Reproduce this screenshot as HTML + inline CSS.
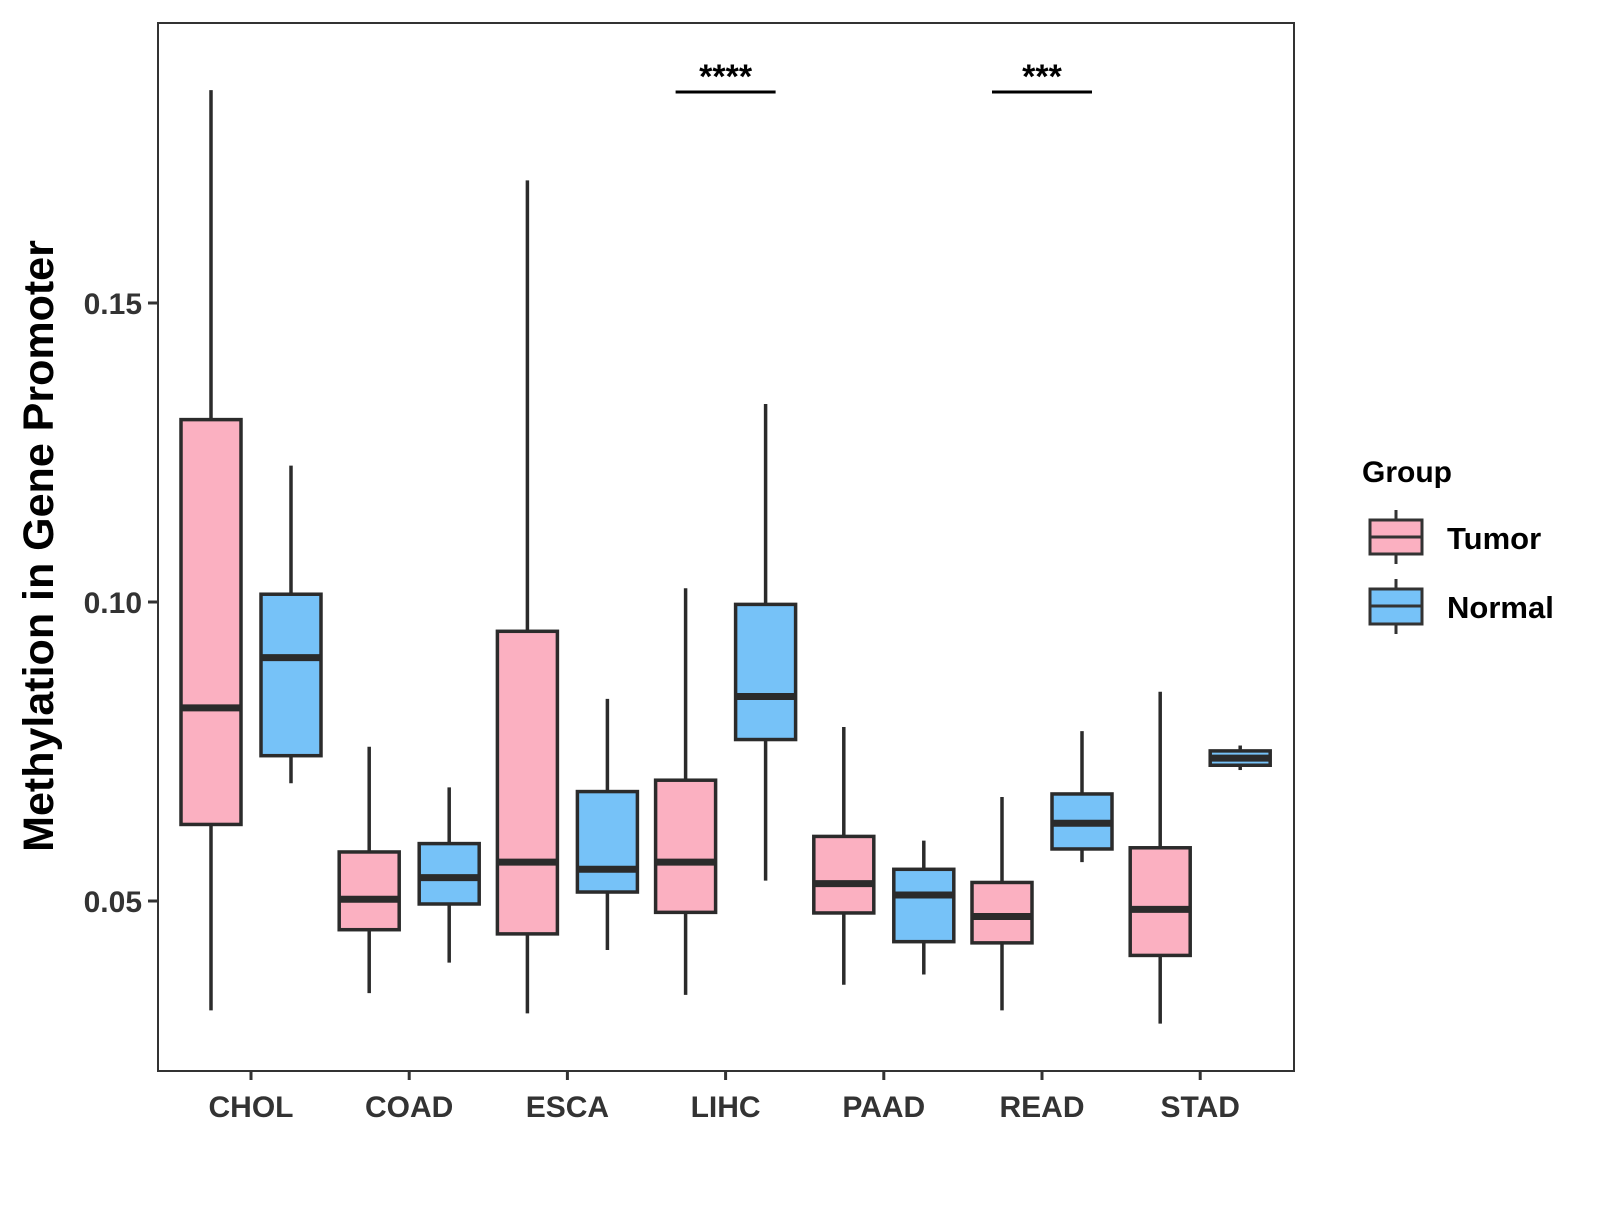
<!DOCTYPE html>
<html><head><meta charset="utf-8"><style>
html,body{margin:0;padding:0;background:#fff;}
svg text{font-family:"Liberation Sans",Arial,sans-serif;font-weight:bold;}
</style></head><body>
<svg id="chart" width="1600" height="1200" viewBox="0 0 1600 1200" xmlns="http://www.w3.org/2000/svg">
<rect x="0" y="0" width="1600" height="1200" fill="#fff"/>
<g id="marks"></g>
<rect x="158" y="23" width="1136" height="1048" fill="none" stroke="#333" stroke-width="2"/>
<g id="axes"></g>
<text x="39" y="546" font-size="43" fill="#000" text-anchor="middle" dominant-baseline="central" transform="rotate(-90 39 546)">Methylation in Gene Promoter</text>
<g>
<text x="1362" y="482" font-size="30" fill="#000">Group</text>
<g>
<line x1="1396" y1="510" x2="1396" y2="564" stroke="#333" stroke-width="3"/>
<rect x="1370" y="520" width="52" height="34" fill="#FBB0C1" stroke="#333" stroke-width="3"/>
<line x1="1370" y1="537" x2="1422" y2="537" stroke="#333" stroke-width="3"/>
<text x="1447" y="549" font-size="31" fill="#000">Tumor</text>
</g>
<g>
<line x1="1396" y1="579" x2="1396" y2="634" stroke="#333" stroke-width="3"/>
<rect x="1370" y="589" width="52" height="35" fill="#76C2F8" stroke="#333" stroke-width="3"/>
<line x1="1370" y1="606" x2="1422" y2="606" stroke="#333" stroke-width="3"/>
<text x="1447" y="618" font-size="31" fill="#000">Normal</text>
</g>
</g>
</svg>
<script>
const categories = ["CHOL","COAD","ESCA","LIHC","PAAD","READ","STAD"];
const tumorMin = [0.0317,0.0346,0.0312,0.0343,0.0360,0.0317,0.0295];
const tumorQ1 = [0.0628,0.0452,0.0445,0.0481,0.0480,0.0430,0.0409];
const tumorMed = [0.0823,0.0503,0.0565,0.0565,0.0529,0.0474,0.0486];
const tumorQ3 = [0.1305,0.0582,0.0951,0.0702,0.0608,0.0531,0.0589];
const tumorMax = [0.1856,0.0758,0.1705,0.1023,0.0791,0.0674,0.0850];
const normalMin = [0.0697,0.0397,0.0418,0.0534,0.0377,0.0565,0.0719];
const normalQ1 = [0.0743,0.0495,0.0515,0.0770,0.0432,0.0587,0.0727];
const normalMed = [0.0907,0.0539,0.0553,0.0842,0.0510,0.0630,0.0739];
const normalQ3 = [0.1013,0.0596,0.0683,0.0996,0.0553,0.0679,0.0751];
const normalMax = [0.1228,0.0690,0.0838,0.1331,0.0601,0.0784,0.0760];
const yTicks = [0.05,0.10,0.15];
const yTickLabels = ["0.05","0.10","0.15"];
const sigCategories = ["LIHC","READ"];
const sigLabels = ["****","***"];

const NS="http://www.w3.org/2000/svg";
function y(v){return 303+(0.15-v)*5980;}
function x(i){return 251+i*158.2;}
function mk(tag,attrs,parent){const e=document.createElementNS(NS,tag);for(const k in attrs)e.setAttribute(k,attrs[k]);parent.appendChild(e);return e;}
const marks=document.getElementById('marks');
const axes=document.getElementById('axes');
function drawBox(cx,mn,q1,md,q3,mx,fill,name){
  const g=mk('g',{},marks);
  
  
  mk('line',{x1:cx,x2:cx,y1:y(mx),y2:y(mn),stroke:'#2b2b2b','stroke-width':3.5},g);
  mk('rect',{x:cx-30,y:y(q3),width:60,height:Math.max(y(q1)-y(q3),1),fill:fill,stroke:'#2b2b2b','stroke-width':3.5},g);
  mk('line',{x1:cx-30,x2:cx+30,y1:y(md),y2:y(md),stroke:'#2b2b2b','stroke-width':7},g);
}
categories.forEach((c,i)=>{
  drawBox(x(i)-40,tumorMin[i],tumorQ1[i],tumorMed[i],tumorQ3[i],tumorMax[i],'#FBB0C1','box-tumor-'+c.toLowerCase());
  drawBox(x(i)+40,normalMin[i],normalQ1[i],normalMed[i],normalQ3[i],normalMax[i],'#76C2F8','box-normal-'+c.toLowerCase());
  mk('line',{x1:x(i),x2:x(i),y1:1071,y2:1080,stroke:'#333','stroke-width':3},axes);
  const t=mk('text',{x:x(i),y:1117,'font-size':30,fill:'#333','text-anchor':'middle'},axes);
  t.textContent=c;
  
  
});
yTicks.forEach((v,i)=>{
  mk('line',{x1:148,x2:158,y1:y(v),y2:y(v),stroke:'#333','stroke-width':3},axes);
  const t=mk('text',{x:142,y:y(v)+11,'font-size':30,fill:'#333','text-anchor':'end'},axes);
  t.textContent=yTickLabels[i];
  
  
});
sigCategories.forEach((c,k)=>{
  const i=categories.indexOf(c);
  const g=mk('g',{},marks);
  
  
  mk('line',{x1:x(i)-50,x2:x(i)+50,y1:92,y2:92,stroke:'#000','stroke-width':3},g);
  const t=mk('text',{x:x(i),y:88,'font-size':34,fill:'#000','text-anchor':'middle'},g);
  t.textContent=sigLabels[k];
});
</script>
</body></html>
